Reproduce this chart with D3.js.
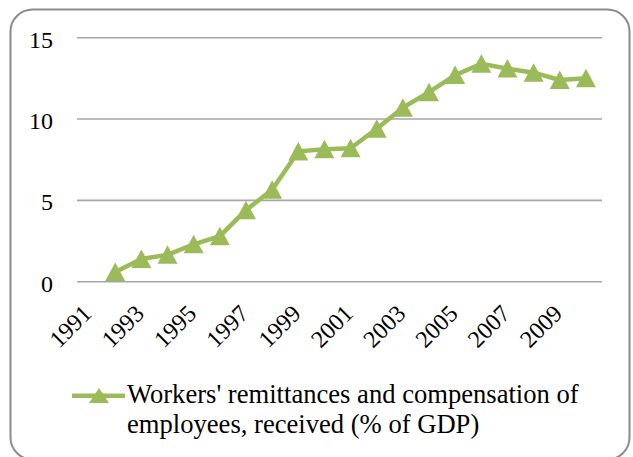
<!DOCTYPE html>
<html>
<head>
<meta charset="utf-8">
<script src="https://cdn.jsdelivr.net/npm/d3@7"></script>
</head>
<body style="margin:0">
<script>
// ---- data ----
const years = ["1991","1992","1993","1994","1995","1996","1997","1998","1999","2000",
               "2001","2002","2003","2004","2005","2006","2007","2008","2009","2010"];
const remittances = [null, 0.6, 1.4, 1.65, 2.3, 2.8, 4.4, 5.65, 8.0, 8.15,
                     8.2, 9.4, 10.7, 11.65, 12.7, 13.4, 13.1, 12.85, 12.4, 12.5];
const yTicks = [0, 5, 10, 15];
const xTickLabels = ["1991","1993","1995","1997","1999","2001","2003","2005","2007","2009"];
const seriesName = ["Workers' remittances and compensation of", "employees, received (% of GDP)"];

// ---- layout ----
const W = 633, H = 457;
const color = "#9bbb59";
const FONT = '"Liberation Serif"';

const svg = d3.select("body").append("svg")
  .attr("width", W).attr("height", H)
  .style("display", "block")
  .style("font-family", FONT);

svg.append("rect").attr("width", W).attr("height", H).attr("fill", "#fff");

// frame
svg.append("rect")
  .attr("x", 10.5).attr("y", 9.5)
  .attr("width", 619).attr("height", 450)
  .attr("rx", 22).attr("ry", 22)
  .attr("fill", "#fff")
  .attr("stroke", "#8c8c8c").attr("stroke-width", 2);

const x = d3.scaleBand().domain(years).range([76, 599]);
const y = d3.scaleLinear().domain([0, 15]).range([281.7, 37.7]);

// y axis labels
const yAxis = d3.axisLeft(y).tickValues(yTicks).tickSize(0).tickPadding(0).tickFormat(d3.format("d"));
const gy = svg.append("g").attr("transform", "translate(53,0)").call(yAxis);
gy.attr("font-family", null).attr("font-size", null);
gy.select(".domain").remove();
gy.selectAll("text")
  .style("font-family", FONT).style("font-size", "24px")
  .attr("fill", "#000").attr("dy", "0.4em").attr("text-anchor", "end").attr("x", 0);

// gridlines
svg.append("g").selectAll("line").data(yTicks).join("line")
  .attr("x1", 77).attr("x2", 602)
  .attr("y1", d => y(d)).attr("y2", d => y(d))
  .attr("stroke", "#a6a6a6").attr("stroke-width", 1.6);

// x labels
svg.append("g").selectAll("text").data(xTickLabels).join("text")
  .attr("transform", d => `translate(${x(d) + x.bandwidth() / 2 + 4},315) rotate(-45)`)
  .attr("text-anchor", "end")
  .style("font-family", FONT).style("font-size", "24px").attr("fill", "#000")
  .text(d => d);

// line
const pts = years.map((yr, i) => ({ yr, v: remittances[i] }));
const line = d3.line()
  .defined(d => d.v !== null)
  .x(d => x(d.yr) + x.bandwidth() / 2)
  .y(d => y(d.v));
svg.append("path").datum(pts)
  .attr("d", line)
  .attr("fill", "none").attr("stroke", color)
  .attr("stroke-width", 4.5).attr("stroke-linejoin", "round");

const tri = "M0,-9.5L10,9L-10,9Z";
svg.append("g").selectAll("path").data(pts.filter(d => d.v !== null)).join("path")
  .attr("transform", d => `translate(${x(d.yr) + x.bandwidth() / 2},${y(d.v)})`)
  .attr("d", tri).attr("fill", color);

// legend
const lg = svg.append("g");
lg.append("line").attr("x1", 72).attr("x2", 125).attr("y1", 395.7).attr("y2", 395.7)
  .attr("stroke", color).attr("stroke-width", 4.5);
lg.append("path").attr("transform", "translate(99,396)").attr("d", "M0,-8L10,7L-10,7Z").attr("fill", color);
lg.selectAll("text").data(seriesName).join("text")
  .attr("x", 127).attr("y", (d, i) => 403.3 + i * 30)
  .style("font-family", FONT).style("font-size", "26.6px").attr("fill", "#000")
  .text(d => d);
</script>
</body>
</html>
